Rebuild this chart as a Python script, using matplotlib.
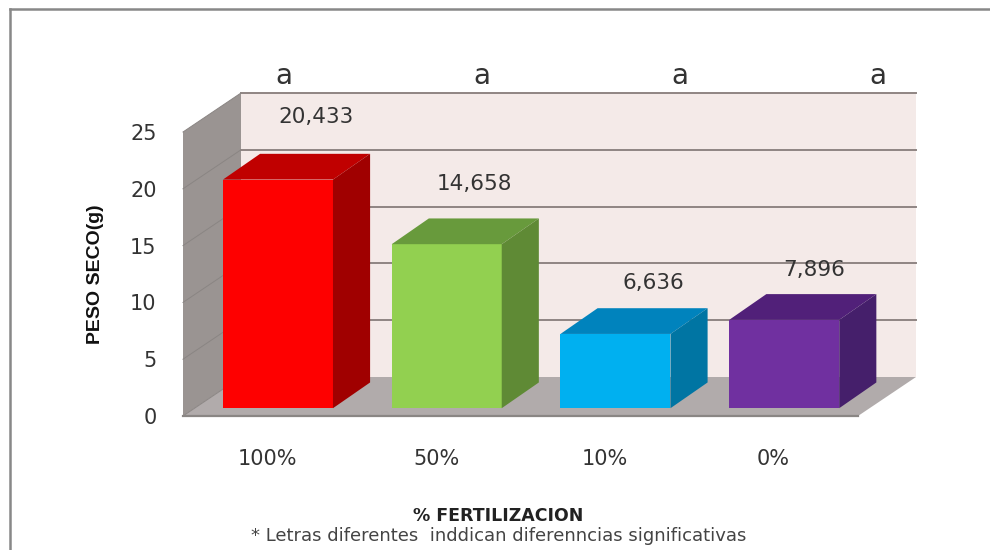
#!/usr/bin/env python3
"""Fake 3D column chart of dry weight by fertilization level."""
import matplotlib

matplotlib.use("Agg")
import matplotlib.pyplot as plt
from matplotlib.lines import Line2D
from matplotlib.patches import Polygon

categories = ["100%", "50%", "10%", "0%"]
values = [20.433, 14.658, 6.636, 7.896]
value_labels = ["20,433", "14,658", "6,636", "7,896"]
letters = ["a", "a", "a", "a"]
y_ticks = [0, 5, 10, 15, 20, 25]

front_colors = ["#fe0000", "#92d050", "#00b0f0", "#7030a0"]
top_colors = ["#c00000", "#689a3c", "#0083bd", "#512079"]
side_colors = ["#a00000", "#5f8a35", "#0075a3", "#451f6b"]

W, H = 990, 550
# front plane of the chart box, in pixels
left, right, y0, y25 = 183, 858, 416, 132
# full depth of the box, in pixels
depth_px, rise_px = 58, 39

plt.rcParams["font.family"] = ["DejaVu Sans"]

fig = plt.figure(figsize=(W / 100, H / 100), dpi=100)
ax = fig.add_axes([left / W, 1 - y0 / H, (right - left) / W, (y0 - y25) / H])
ax.set_xlim(-0.5, 3.5)
ax.set_ylim(0, 25)
ax.patch.set_visible(False)
for s in ax.spines.values():
    s.set_visible(False)

sx = (right - left) / 4
sy = (y0 - y25) / 25
dx = depth_px / sx
dy = rise_px / sy


def poly(points, color, z=1):
    ax.add_patch(Polygon(points, closed=True, fc=color, ec="none", zorder=z, clip_on=False))


# back wall, side wall, floor
poly([(-0.5 + dx, dy), (3.5 + dx, dy), (3.5 + dx, 25 + dy), (-0.5 + dx, 25 + dy)], "#f4eae8")
poly([(-0.5, 0), (-0.5 + dx, dy), (-0.5 + dx, 25 + dy), (-0.5, 25)], "#9a9492")
poly([(-0.5, 0), (3.5, 0), (3.5 + dx, dy), (-0.5 + dx, dy)], "#b1abab")

for t in y_ticks:
    if t > 0:
        ax.plot([-0.5 + dx, 3.5 + dx], [t + dy, t + dy], color="#8f8583", lw=1.4, zorder=2, clip_on=False)
    ax.plot([-0.5, -0.5 + dx], [t, t + dy], color="#8a8583", lw=0.7, zorder=2, clip_on=False)
ax.plot([-0.5, 3.5], [0, 0], color="#8a8684", lw=1.6, zorder=2, clip_on=False)

# bars sit between 20% and 84% of the box depth, width 110 px
half = 55 / sx
shift = 0.2 * dx - 1 / sx
for i, v in enumerate(values):
    x0 = i + shift - half
    x1 = i + shift + half
    b = 0.2 * dy
    top = b + v * 0.985
    ox = 0.64 * dx
    oy = 0.66 * dy
    poly([(x0, b), (x1, b), (x1, top), (x0, top)], front_colors[i], 3)
    poly([(x0, top), (x1, top), (x1 + ox, top + oy), (x0 + ox, top + oy)], top_colors[i], 3)
    poly([(x1, b), (x1 + ox, b + oy), (x1 + ox, top + oy), (x1, top)], side_colors[i], 3)

ax.set_xticks(range(len(categories)), categories)
ax.set_yticks(y_ticks)
ax.tick_params(axis="x", length=0, pad=24, labelsize=15, labelcolor="#333333")
ax.tick_params(axis="y", length=0, pad=19, labelsize=15, labelcolor="#333333")
ax.set_ylabel("PESO SECO(g)", fontsize=14, family=["Liberation Sans"], fontweight="bold",
              color="#111111", labelpad=19)

# value labels and letters are placed in pixels, they float free of the bars
label_pos = [(316, 117), (474, 184), (653, 283), (814, 270)]
letter_pos = [(284, 76), (482, 76), (680, 76), (878, 76)]
for (px, py), txt in zip(label_pos, value_labels):
    fig.text(px / W, 1 - py / H, txt, ha="center", va="center", fontsize=15.5, color="#333333")
for (px, py), txt in zip(letter_pos, letters):
    fig.text(px / W, 1 - py / H, txt, ha="center", va="center", fontsize=20, color="#333333")

fig.text(498 / W, 1 - 516 / H, "% FERTILIZACION", ha="center", va="center", fontsize=12.5,
         fontweight="bold", color="#222222")
fig.text(499 / W, 1 - 536 / H, "* Letras diferentes  inddican diferenncias significativas", ha="center",
         va="center", fontsize=13, color="#444444")

# outer frame of the picture: only top and left edges show
fig.add_artist(Line2D([10 / W, 1], [1 - 9 / H, 1 - 9 / H], transform=fig.transFigure, color="#888888", lw=1.8))
fig.add_artist(Line2D([10 / W, 10 / W], [0, 1 - 9 / H], transform=fig.transFigure, color="#888888", lw=1.8))

fig.savefig("out.png", dpi=100)
